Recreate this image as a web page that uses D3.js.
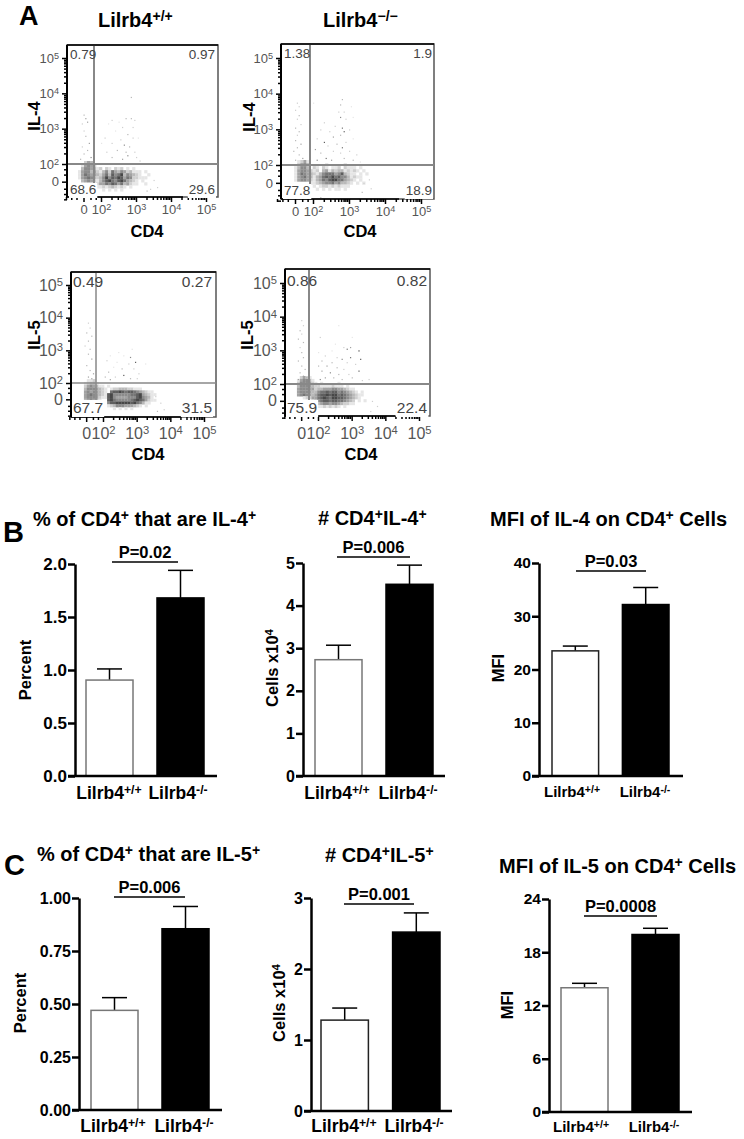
<!DOCTYPE html>
<html>
<head>
<meta charset="utf-8">
<script src="https://cdn.jsdelivr.net/npm/d3@7"></script>
<style>
body { margin: 0; background: #fff; }
text { font-family: "Liberation Sans", Arial, sans-serif; fill: #000; }
.bold { font-weight: bold; }
.flow .tick text { fill: #555; font-weight: normal; }
.bars .tick text { font-weight: bold; }
</style>
</head>
<body>
<div id="chart"></div>
<script>
// bar values
var genotypes = ["Lilrb4^{+/+}", "Lilrb4^{-/-}"];
var il4Percent = [0.905, 1.68], il4PercentTop = [1.01, 1.94];
var il4Cells = [2.73, 4.5], il4CellsTop = [3.07, 4.95];
var il4Mfi = [23.5, 32.2], il4MfiTop = [24.4, 35.4];
var il5Percent = [0.47, 0.855], il5PercentTop = [0.53, 0.96];
var il5Cells = [1.28, 2.52], il5CellsTop = [1.45, 2.79];
var il5Mfi = [14, 20], il5MfiTop = [14.5, 20.7];

var percent4Ticks = [0, 0.5, 1, 1.5, 2], cells4Ticks = [0, 1, 2, 3, 4, 5], mfi4Ticks = [0, 10, 20, 30, 40];
var percent5Ticks = [0, 0.25, 0.5, 0.75, 1], cells5Ticks = [0, 1, 2, 3], mfi5Ticks = [0, 6, 12, 18, 24];

// flow plots: decade positions, 0 sits half a decade under 10^2
var flowMajor = [1.5, 2, 3, 4, 5];
var flowMinor = [1, 1.15, 1.3, 1.7, 1.85, 2.3, 2.48, 2.6, 2.7, 2.78, 2.85, 2.9, 2.95, 3.3, 3.48, 3.6, 3.7, 3.78, 3.85, 3.9, 3.95, 4.3, 4.48, 4.6, 4.7, 4.78, 4.85, 4.9, 4.95];

var quadA1 = ["0.79", "0.97", "68.6", "29.6"];
var quadA2 = ["1.38", "1.9", "77.8", "18.9"];
var quadA3 = ["0.49", "0.27", "67.7", "31.5"];
var quadA4 = ["0.86", "0.82", "75.9", "22.4"];

// density of the big populations, one digit per cell, 0 empty to 9 darkest
var densityA1 = [
  "0024300000000000000000000",
  "0145420000000000000000000",
  "0355431202102120101000000",
  "1455342135264354231110100",
  "1465443246375683543210010",
  "1456532358576874652211100",
  "0345421357865786432101000",
  "0000012446576463421100100",
  "0000001121232121010000000",
  "0000000010101010000000000"];
var densityA2 = [
  "00124100000000000000000000",
  "00245300000100000100000000",
  "01355302102101120211101000",
  "01455421203413233121210100",
  "01465432135666457321101010",
  "01456431346768675531211000",
  "01455421346578866432101000",
  "00000011234556453321010100",
  "00000001012212121110000000",
  "00000000101010110100000000"];
var densityA3 = [
  "001120000000000000000000000",
  "012331000000000000000000000",
  "024543110100000000000000000",
  "035554321012233322111000000",
  "045454321067787677654321100",
  "045654321785555556678432110",
  "045554211785444455578543100",
  "034543100786555556787642110",
  "000000000577888887865311000",
  "000000000123555444321010000",
  "000000000001010101000000000"];
var densityA4 = [
  "002421000000000000000000000",
  "014553100000000000000000000",
  "025554210100000100000000000",
  "035554322111121110100000000",
  "045554423344455443211000000",
  "045554335667677565432101000",
  "045654346778788676543211000",
  "000122446787688776543210000",
  "000000235677677665432010100",
  "000000013455455432211000000",
  "000000001121212101000000000"];

// single events outside the populations: [CD4 decade, cytokine decade, darkness]
var dotsA1 = [[1.5,3.4,3],[1.55,3.3,4],[1.45,3.15,2],[1.6,3.2,4],[1.5,2.95,2],[1.55,2.8,3],[1.65,2.6,4],[1.45,2.5,2],[1.6,2.4,3],[1.5,2.3,3],[1.7,2.2,5],[1.4,2.15,3],
  [2.85,3.9,3],[2.3,3.25,2],[2.5,3.2,1],[2.7,3.3,3],[2.85,3.3,3],[2.95,3.25,2],[2.2,3.15,1],[2.6,3.05,2],[2.9,3.05,2],[2.4,2.95,1],[2.75,2.85,3],[2.1,2.75,2],[2.55,2.7,2],[2.9,2.75,2],[3.05,2.75,1],[2.0,2.6,1],[2.3,2.6,2],[2.65,2.55,5],[2.8,2.5,3],[2.45,2.4,3],[2.15,2.35,2],[2.7,2.35,3],[2.95,2.35,2],[2.3,2.2,3],[2.6,2.15,4],[3.0,2.2,2],[3.1,2.1,2],[2.75,2.25,5],
  [3.5,1.55,2],[3.6,1.35,2],[3.4,1.3,2],[3.3,1.25,3]];
var dotsA2 = [[1.55,3.75,2],[1.6,3.65,2],[1.5,3.55,2],[1.6,3.4,3],[1.55,3.3,2],[1.65,3.15,2],[1.5,3.05,3],[1.6,2.95,3],[1.55,2.85,2],[1.5,2.7,3],[1.65,2.6,4],[1.55,2.5,3],[1.45,2.4,3],[1.6,2.3,3],[1.7,2.2,4],[1.5,2.15,3],
  [2.8,3.85,3],[2.75,3.7,3],[3.05,3.65,1],[2.7,3.5,2],[2.85,3.5,2],[3.1,3.35,1],[2.0,3.75,1],[2.75,3.35,5],[2.9,3.3,2],[2.3,3.2,2],[2.6,3.1,2],[2.8,3.05,6],[2.85,2.95,7],[2.2,3.0,2],[2.45,2.95,2],[3.0,3.0,2],[2.75,2.85,3],[2.1,2.75,2],[2.55,2.8,4],[3.1,2.75,1],[2.3,2.65,7],[2.65,2.6,3],[2.9,2.65,2],[2.4,2.55,2],[2.8,2.5,6],[2.05,2.45,4],[2.2,2.35,3],[2.55,2.4,2],[2.75,2.35,2],[3.0,2.4,2],[3.2,2.3,2],[2.35,2.2,6],[2.1,2.15,5],[2.5,2.15,4],[2.85,2.2,3],[3.1,2.15,3],[3.3,2.1,1],
  [3.4,1.5,2],[3.55,1.6,2],[3.6,1.35,2],[3.35,1.25,3],[2.5,1.05,3],[2.2,1.1,3]];
var dotsA3 = [[1.55,3.85,2],[1.6,3.7,2],[1.5,3.55,3],[1.65,3.45,3],[1.55,3.3,3],[1.45,3.15,2],[1.6,3.05,3],[1.55,2.9,3],[1.65,2.75,4],[1.5,2.55,3],[1.6,2.4,3],[1.7,2.3,4],[1.55,2.2,4],[1.65,2.15,4],
  [2.85,3.05,1],[2.45,2.95,1],[2.8,2.8,5],[2.6,2.85,1],[2.2,2.85,1],[2.95,2.65,7],[2.1,2.7,2],[2.4,2.65,1],[3.25,2.6,1],[2.75,2.6,2],[2.3,2.5,1],[2.55,2.45,3],[2.9,2.45,2],[2.15,2.35,3],[2.6,2.25,7],[2.05,2.2,3],[2.35,2.2,2],[2.8,2.15,3],[3.05,2.3,2],[3.0,2.15,2],[2.2,2.12,4],
  [3.55,1.6,2],[3.7,1.4,2],[3.8,1.2,2],[3.6,1.15,3]];
var dotsA4 = [[1.5,3.9,2],[1.55,3.75,2],[1.45,3.6,3],[1.5,3.5,2],[1.4,3.35,3],[1.55,3.25,3],[1.45,3.1,2],[1.5,2.95,3],[1.55,2.8,3],[1.4,2.7,3],[1.5,2.55,3],[1.6,2.45,3],[1.45,2.35,3],[1.55,2.25,4],[1.65,2.2,4],[1.4,2.15,4],
  [2.6,3.75,1],[2.05,3.4,2],[3.0,3.4,1],[2.5,3.2,1],[2.85,3.05,6],[2.95,3.1,4],[3.2,3.0,8],[2.75,3.1,2],[2.4,3.0,1],[2.0,2.95,1],[2.2,2.85,2],[2.55,2.8,2],[2.7,2.75,5],[2.95,2.8,6],[3.25,2.75,7],[2.1,2.7,3],[2.4,2.65,3],[2.85,2.65,2],[3.1,2.6,2],[2.0,2.55,3],[2.25,2.55,4],[2.55,2.5,3],[2.75,2.45,2],[3.2,2.4,7],[2.1,2.4,4],[2.35,2.35,5],[2.6,2.3,3],[2.9,2.3,2],[2.2,2.2,4],[2.45,2.2,3],[2.7,2.15,3],[3.0,2.2,3],[3.3,2.12,2],[3.5,2.15,2],[2.05,2.15,5],
  [3.6,1.5,2],[3.75,1.35,2],[3.55,1.2,2]];

var width = 744, height = 1139;
var svg = d3.select("#chart").append("svg")
    .attr("width", width)
    .attr("height", height);

// writes "abc^{sup}def" as tspans, superscripts raised
function rich(sel, str) {
  str.split(/\^\{(.*?)\}/).forEach(function(part, i) {
    if (part === "") return;
    var up = i % 2 === 1;
    sel.append("tspan")
        .text(part)
        .attr("font-size", up ? "70%" : null)
        .attr("dy", up ? "-0.42em" : (i > 0 ? "0.3em" : null));
  });
  return sel;
}

function label(str, x, y, size, opts) {
  opts = opts || {};
  var t = svg.append("text")
      .attr("class", opts.normal ? null : "bold")
      .attr("font-size", size)
      .attr("text-anchor", opts.anchor || "start")
      .attr("transform", "translate(" + x + "," + y + ")" + (opts.rotate ? " rotate(-90)" : ""));
  return rich(t, str);
}

label("A", 19, 25, 27);
label("B", 3, 542, 29);
label("C", 4, 875, 29);
label("Lilrb4^{+/+}", 98, 27, 20);
label("Lilrb4^{−/−}", 323, 27, 20);

var flowPanels = [
  {quad: quadA1, density: densityA1, dots: dotsA1, title: "IL-4", box: [67, 218, 45, 197], xr: [101, 206], yr: [164, 58], gate: [2.0 - 7 / 35, 2], grid: [1.343, 2.085], tick: 13, xBase: 214, titleX: 34, titleY: 116, cdX: 147, cdY: 237, textBase: [59, 194], textX: [70, 215], textSize: 13.5, gateW: 2},
  {quad: quadA2, density: densityA2, dots: dotsA2, title: "IL-4", box: [281, 434, 44, 199], xr: [313, 421], yr: [165, 58], gate: [2.0 - 3 / 36, 2], grid: [1.389, 2.14], tick: 13, xBase: 216, titleX: 249, titleY: 117, cdX: 360, cdY: 237, textBase: [58, 195], textX: [284, 432], textSize: 13.5, gateW: 2},
  {quad: quadA3, density: densityA3, dots: dotsA3, title: "IL-5", box: [71, 216, 272, 417], xr: [103, 204], yr: [383, 285], gate: [2.0 - 7 / 33.7, 2], grid: [1.347, 2.12], tick: 16, xBase: 439, titleX: 34, titleY: 335, cdX: 148, cdY: 460, textBase: [287, 413], textX: [73, 212], textSize: 15.5, gateW: 1.5},
  {quad: quadA4, density: densityA4, dots: dotsA4, title: "IL-5", box: [285, 430, 269, 416], xr: [318, 419], yr: [384, 283], gate: [2.0 - 9 / 33.7, 2], grid: [1.288, 2.237], tick: 16, xBase: 439, titleX: 247, titleY: 335, cdX: 361, cdY: 460, textBase: [286, 413], textX: [287, 427], textSize: 15.5, gateW: 2}
];

var tone = d3.scaleLinear().domain([1, 9]).range(["#e6e6e6", "#303030"]);
var cellStep = 0.086;

flowPanels.forEach(function(p) {
  var x = d3.scaleLinear().domain([2, 5]).range(p.xr);
  var y = d3.scaleLinear().domain([2, 5]).range(p.yr);
  var g = svg.append("g").attr("class", "flow");

  g.append("rect")
      .attr("x", p.box[0]).attr("y", p.box[2])
      .attr("width", p.box[1] - p.box[0]).attr("height", p.box[3] - p.box[2])
      .attr("fill", "#fff").attr("stroke", "#555").attr("stroke-width", 1.5);

  // density cells
  var cols = p.density[0].length, rows = p.density.length;
  var cx = d3.scaleBand().domain(d3.range(cols))
      .range([x(p.grid[0]), x(p.grid[0] + cols * cellStep)]);
  var cy = d3.scaleBand().domain(d3.range(rows))
      .range([y(p.grid[1]), y(p.grid[1] - rows * cellStep)]);
  var cells = [];
  p.density.forEach(function(row, j) {
    row.split("").forEach(function(v, i) {
      if (+v > 0) cells.push({i: i, j: j, v: +v});
    });
  });
  g.selectAll("rect.cell").data(cells).enter().append("rect")
      .attr("class", "cell")
      .attr("x", function(d) { return cx(d.i); })
      .attr("y", function(d) { return cy(d.j); })
      .attr("width", cx.bandwidth() + 0.2)
      .attr("height", cy.bandwidth() + 0.2)
      .attr("fill", function(d) { return tone(d.v); });

  // single events
  g.selectAll("rect.dot").data(p.dots).enter().append("rect")
      .attr("class", "dot")
      .attr("x", function(d) { return x(d[0]); })
      .attr("y", function(d) { return y(d[1]); })
      .attr("width", 1.2).attr("height", 1.2)
      .attr("fill", function(d) { return tone(d[2]); });

  // quadrant gates
  g.append("line").attr("x1", x(p.gate[0])).attr("x2", x(p.gate[0]))
      .attr("y1", p.box[2]).attr("y2", p.box[3] - 14)
      .attr("stroke", "#888").attr("stroke-width", p.gateW);
  g.append("line").attr("x1", p.box[0]).attr("x2", p.box[1])
      .attr("y1", y(p.gate[1])).attr("y2", y(p.gate[1]))
      .attr("stroke", "#888").attr("stroke-width", p.gateW);

  // axes, minor ticks first
  var yMinor = d3.axisLeft(y).tickValues(flowMinor).tickSize(3).tickFormat("");
  var xMinor = d3.axisBottom(x).tickValues(flowMinor).tickSize(3).tickFormat("");
  var yMajor = d3.axisLeft(y).tickValues(flowMajor).tickSize(5).tickFormat(flowTick);
  var xMajor = d3.axisBottom(x).tickValues(flowMajor).tickSize(5).tickFormat(flowTick);

  [yMinor, yMajor].forEach(function(a) {
    var ga = g.append("g").attr("transform", "translate(" + p.box[0] + ",0)").call(a);
    ga.select(".domain").remove();
    ga.selectAll(".tick line").attr("stroke-width", 1.5);
    styleTicks(ga, p.tick);
  });
  [xMinor, xMajor].forEach(function(a) {
    var ga = g.append("g").attr("transform", "translate(0," + p.box[3] + ")").call(a);
    ga.select(".domain").remove();
    ga.selectAll(".tick line").attr("stroke-width", 1.5);
    styleTicks(ga, p.tick);
    ga.selectAll(".tick text").attr("y", p.xBase - p.box[3]).attr("dy", 0);
  });
  g.append("line").attr("x1", p.box[0]).attr("x2", p.box[0])
      .attr("y1", p.box[2]).attr("y2", p.box[3])
      .attr("stroke", "#000").attr("stroke-width", 2);
  g.append("line").attr("x1", p.box[0]).attr("x2", p.box[1])
      .attr("y1", p.box[2]).attr("y2", p.box[2])
      .attr("stroke", "#000").attr("stroke-width", 1.5);
  g.append("line").attr("x1", p.box[0]).attr("x2", p.box[1] - 35)
      .attr("y1", p.box[3]).attr("y2", p.box[3])
      .attr("stroke", "#000").attr("stroke-width", 1.5);

  // quadrant percentages, on a white patch
  p.quad.forEach(function(v, i) {
    var right = i % 2 === 1;
    var t = g.append("text")
        .text(v)
        .attr("x", p.textX[right ? 1 : 0])
        .attr("y", p.textBase[i < 2 ? 0 : 1])
        .attr("font-size", p.textSize)
        .attr("text-anchor", right ? "end" : "start")
        .style("fill", "#444");
    if (i < 2) return;
    var bb = t.node().getBBox();
    g.insert("rect", function() { return t.node(); })
        .attr("x", bb.x - 1).attr("y", bb.y + 1)
        .attr("width", bb.width + 2).attr("height", bb.height)
        .attr("fill", "#fff");
  });

  label(p.title, p.titleX + 6, p.titleY, 16.5, {rotate: true, anchor: "middle"});
  label("CD4", p.cdX, p.cdY, 16.5, {anchor: "middle"});
});

function flowTick(d) {
  return d === 1.5 ? "0" : "10^{" + d + "}";
}

// axis labels come in as plain strings, rewrite them with raised exponents
function styleTicks(ga, size) {
  ga.selectAll(".tick text").each(function() {
    var t = d3.select(this), s = t.text();
    if (!s) return;
    t.text("").attr("font-size", size);
    rich(t, s);
  });
}

var barPanels = [
  {title: "% of CD4^{+} that are IL-4^{+}", tx: 33, ty: 526, vals: il4Percent, tops: il4PercentTop, ticks: percent4Ticks, fmt: d3.format(".1f"), axisX: 75, yr: [776, 564], bars: [86, 204], end: 217, yl: "Percent", ylx: 31, yly: 670, p: "P=0.02", pl: [112, 178], py: 562, catY: 799, catX: [109, 178], tick: 17, cat: 17.5, edge: "#777"},
  {title: "# CD4^{+}IL-4^{+}", tx: 318, ty: 525, vals: il4Cells, tops: il4CellsTop, ticks: cells4Ticks, fmt: d3.format("d"), axisX: 303, yr: [776, 563], bars: [315, 433], end: 445, yl: "Cells x10^{4}", ylx: 278, yly: 668, p: "P=0.006", pl: [337, 410], py: 557, catY: 799, catX: [337, 408], tick: 16, cat: 17.5, edge: "#777"},
  {title: "MFI of IL-4 on CD4^{+} Cells", tx: 490, ty: 526, vals: il4Mfi, tops: il4MfiTop, ticks: mfi4Ticks, fmt: d3.format("d"), axisX: 539, yr: [776, 563], bars: [552, 669], end: 683, yl: "MFI", ylx: 504, yly: 668, p: "P=0.03", pl: [576, 646], py: 571, catY: 797, catX: [572, 645], tick: 15.5, cat: 15, edge: "#222"},
  {title: "% of CD4^{+} that are IL-5^{+}", tx: 37, ty: 861, vals: il5Percent, tops: il5PercentTop, ticks: percent5Ticks, fmt: d3.format(".2f"), axisX: 79, yr: [1110, 898], bars: [91, 209], end: 222, yl: "Percent", ylx: 26, yly: 1003, p: "P=0.006", pl: [114, 185], py: 897, catY: 1132, catX: [113, 184], tick: 16, cat: 17.5, edge: "#777"},
  {title: "# CD4^{+}IL-5^{+}", tx: 325, ty: 862, vals: il5Cells, tops: il5CellsTop, ticks: cells5Ticks, fmt: d3.format("d"), axisX: 311, yr: [1111, 898], bars: [321, 440], end: 452, yl: "Cells x10^{4}", ylx: 285, yly: 1003, p: "P=0.001", pl: [344, 414], py: 904, catY: 1132, catX: [344, 414], tick: 16, cat: 17.5, edge: "#222"},
  {title: "MFI of IL-5 on CD4^{+} Cells", tx: 499, ty: 873, vals: il5Mfi, tops: il5MfiTop, ticks: mfi5Ticks, fmt: d3.format("d"), axisX: 549, yr: [1112, 899], bars: [561, 679], end: 692, yl: "MFI", ylx: 513, yly: 1005, p: "P=0.0008", pl: [584, 657], py: 916, catY: 1132, catX: [581, 654], tick: 15.5, cat: 15, edge: "#777"}
];

barPanels.forEach(function(p) {
  var top = p.ticks[p.ticks.length - 1];
  var y = d3.scaleLinear().domain([0, top]).range(p.yr);
  var x = d3.scaleBand().domain(genotypes).range(p.bars).paddingInner(0.338);
  var g = svg.append("g").attr("class", "bars");

  label(p.title, p.tx, p.ty, 20);

  // error bars behind the columns
  g.selectAll("line.err").data(genotypes).enter().append("line")
      .attr("class", "err")
      .attr("x1", function(d) { return x(d) + x.bandwidth() / 2; })
      .attr("x2", function(d) { return x(d) + x.bandwidth() / 2; })
      .attr("y1", function(d, i) { return y(p.vals[i]); })
      .attr("y2", function(d, i) { return y(p.tops[i]); })
      .attr("stroke", "#000").attr("stroke-width", 1.5);
  g.selectAll("line.cap").data(genotypes).enter().append("line")
      .attr("class", "cap")
      .attr("x1", function(d) { return x(d) + x.bandwidth() / 2 - 12.5; })
      .attr("x2", function(d) { return x(d) + x.bandwidth() / 2 + 12.5; })
      .attr("y1", function(d, i) { return y(p.tops[i]); })
      .attr("y2", function(d, i) { return y(p.tops[i]); })
      .attr("stroke", "#000").attr("stroke-width", 1.5);

  g.selectAll("rect.bar").data(genotypes).enter().append("rect")
      .attr("class", "bar")
      .attr("x", function(d) { return x(d); })
      .attr("y", function(d, i) { return y(p.vals[i]); })
      .attr("width", x.bandwidth())
      .attr("height", function(d, i) { return y(0) - y(p.vals[i]); })
      .attr("fill", function(d, i) { return i ? "#000" : "#fff"; })
      .attr("stroke", function(d, i) { return i ? "#000" : p.edge; })
      .attr("stroke-width", 1.5);

  var ga = g.append("g")
      .attr("transform", "translate(" + p.axisX + ",0)")
      .call(d3.axisLeft(y).tickValues(p.ticks).tickFormat(p.fmt).tickSize(7).tickSizeOuter(0));
  ga.select(".domain").attr("stroke-width", 2.5);
  ga.selectAll(".tick line").attr("stroke-width", 2.5);
  ga.selectAll(".tick text").attr("font-size", p.tick).attr("x", -8);

  g.append("line")
      .attr("x1", p.axisX - 7).attr("x2", p.end)
      .attr("y1", y(0)).attr("y2", y(0))
      .attr("stroke", "#000").attr("stroke-width", 2.5);

  genotypes.forEach(function(c, i) {
    label(c, p.catX[i], p.catY, p.cat, {anchor: "middle"});
  });

  g.append("line")
      .attr("x1", p.pl[0]).attr("x2", p.pl[1])
      .attr("y1", p.py).attr("y2", p.py)
      .attr("stroke", "#000").attr("stroke-width", 1.5);
  label(p.p, (p.pl[0] + p.pl[1]) / 2, p.py - 4, 16.5, {anchor: "middle"});

  label(p.yl, p.ylx, p.yly, 16.5, {rotate: true, anchor: "middle"});
});
</script>
</body>
</html>
